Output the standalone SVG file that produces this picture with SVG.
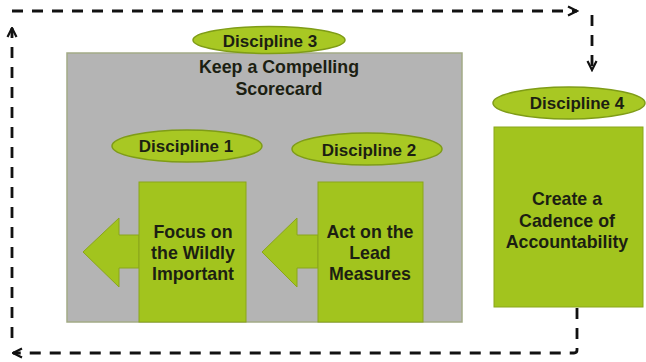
<svg xmlns="http://www.w3.org/2000/svg" width="646" height="362" viewBox="0 0 646 362">
<defs>
<style>
.t{font-family:"Liberation Sans",Arial,sans-serif;font-weight:bold;font-size:17px;fill:#1c1f12;text-anchor:middle}
.b{font-size:17.8px}
.grn{fill:#a2c41e;stroke:#8aa61a;stroke-width:1}
.ell{fill:#a8c823;stroke:#7f9c17;stroke-width:1.5}
.dash{fill:none;stroke:#111;stroke-width:2.8;stroke-dasharray:11 9}
</style>
<marker id="ah" viewBox="0 0 12 12" refX="10.5" refY="6" markerWidth="12" markerHeight="12" markerUnits="userSpaceOnUse" orient="auto">
<path d="M1.5,1.5 L10.5,6 L1.5,10.5" fill="none" stroke="#111" stroke-width="2.2"/>
</marker>
</defs>
<rect width="646" height="362" fill="#fff"/>
<g id="connectors">
<path class="dash" d="M12,11 H577" marker-end="url(#ah)"/>
<path class="dash" d="M592,15 V70" marker-end="url(#ah)"/>
<path class="dash" d="M577,308 V350 Q577,353 574,353 H13" marker-end="url(#ah)"/>
<path class="dash" d="M12,338 V28" marker-end="url(#ah)"/>
</g>
<g id="discipline3">
<rect x="67" y="53" width="395" height="269" fill="#b4b4b4" stroke="#a3ab86" stroke-width="1.5"/>
<ellipse class="ell" cx="269" cy="40" rx="76" ry="13.5"/>
<text class="t" x="270" y="47">Discipline 3</text>
<text class="t b" x="279" y="73">Keep a Compelling</text>
<text class="t b" x="279" y="95">Scorecard</text>
</g>
<g id="discipline1">
<ellipse class="ell" cx="187" cy="146" rx="75" ry="16"/>
<text class="t" x="186" y="152">Discipline 1</text>
<polygon class="grn" points="139,235 119,235 119,218 83,252 119,287 119,268 139,268"/>
<rect class="grn" x="139" y="182" width="107" height="140"/>
<text class="t b" x="193" y="238">Focus on</text>
<text class="t b" x="193" y="259">the Wildly</text>
<text class="t b" x="193" y="280">Important</text>
</g>
<g id="discipline2">
<ellipse class="ell" cx="367" cy="149" rx="75" ry="16"/>
<text class="t" x="369" y="156">Discipline 2</text>
<polygon class="grn" points="318,235 297,235 297,218 262,252 297,287 297,268 318,268"/>
<rect class="grn" x="318" y="182" width="105" height="140"/>
<text class="t b" x="370" y="238">Act on the</text>
<text class="t b" x="370" y="259">Lead</text>
<text class="t b" x="370" y="280">Measures</text>
</g>
<g id="discipline4">
<ellipse class="ell" cx="569" cy="103" rx="76" ry="16"/>
<text class="t" x="577" y="109">Discipline 4</text>
<rect class="grn" x="494" y="127" width="149" height="180"/>
<text class="t b" x="567" y="205">Create a</text>
<text class="t b" x="567" y="227">Cadence of</text>
<text class="t b" x="567" y="248">Accountability</text>
</g>
</svg>
